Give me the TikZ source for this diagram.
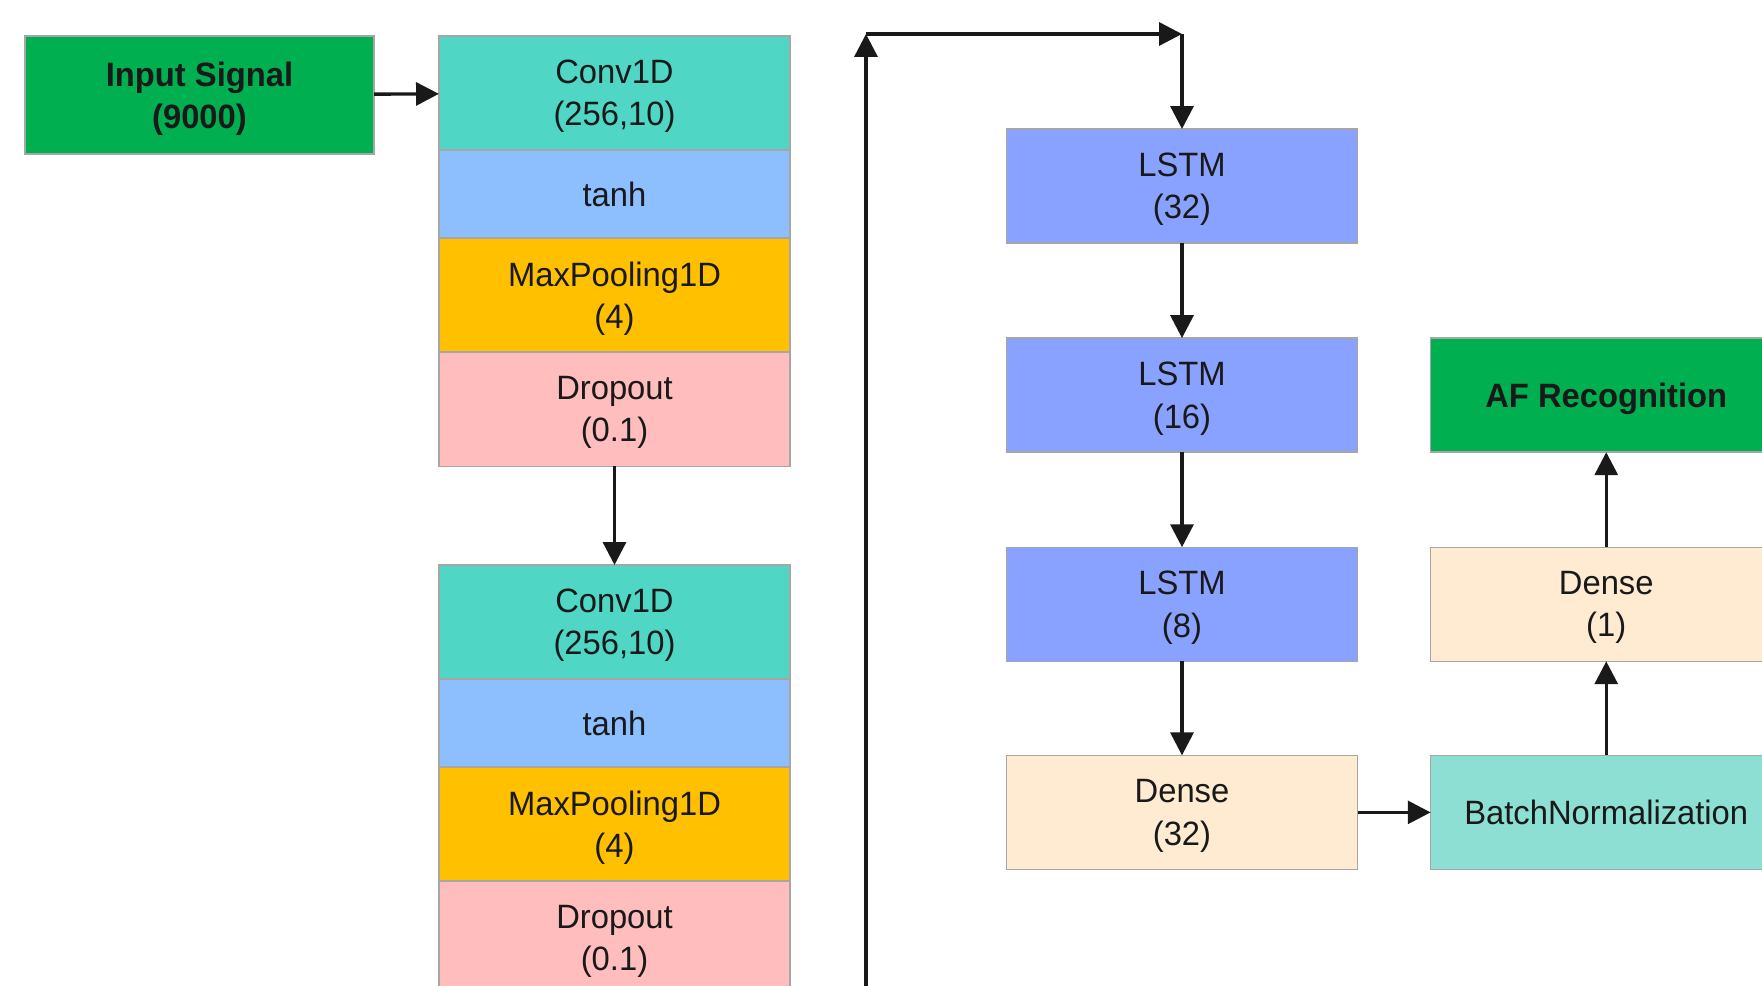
\documentclass[tikz,border=0pt]{standalone}
\usepackage{fontspec}
\setmainfont{Liberation Sans}[FakeStretch=0.97]
\usetikzlibrary{positioning,arrows.meta}

% colores de las capas
\definecolor{verde}{HTML}{00B050}
\definecolor{convc}{HTML}{4FD6C5}
\definecolor{tanhc}{HTML}{8DBFFF}
\definecolor{poolc}{HTML}{FFC000}
\definecolor{dropc}{HTML}{FFBDBD}
\definecolor{lstmc}{HTML}{8AA2FF}
\definecolor{densec}{HTML}{FFEBD2}
\definecolor{bnc}{HTML}{8CDFD2}
\definecolor{borde}{HTML}{A6A6A6}

\tikzset{
  capa/.style={draw=borde, line width=0.4pt, minimum width=3.51cm, minimum height=1.14cm,
    inner sep=0pt, outer sep=0pt, align=center, text=black!90, text depth=0pt,
    font=\fontsize{9.6pt}{12pt}\selectfont},
  fina/.style={capa, minimum height=0.88cm},
  negrita/.style={font=\bfseries\fontsize{9.6pt}{12pt}\selectfont},
  flecha/.style={-{Triangle[length=6.5pt,width=6.5pt]}, line width=0.95pt, black!90},
}

\begin{document}
\begin{tikzpicture}[x=0.01cm, y=-0.01cm]

    \useasboundingbox (0,0) rectangle (1762,986);

    % entrada
    \node[capa, negrita, fill=verde, minimum width=3.49cm, minimum height=1.18cm] (inp) at (199.5,95) {Input Signal\\(9000)};

    % primer bloque convolucional
    \node[capa, fill=convc, anchor=north] (conv1) at (614.5,36) {Conv1D\\(256,10)};
    \node[fina, fill=tanhc, below=0pt of conv1] (tanh1) {tanh};
    \node[capa, fill=poolc, below=0pt of tanh1] (pool1) {MaxPooling1D\\(4)};
    \node[capa, fill=dropc, below=0pt of pool1] (drop1) {Dropout\\(0.1)};

    % segundo bloque convolucional
    \node[capa, fill=convc, anchor=north] (conv2) at (614.5,565) {Conv1D\\(256,10)};
    \node[fina, fill=tanhc, below=0pt of conv2] (tanh2) {tanh};
    \node[capa, fill=poolc, below=0pt of tanh2] (pool2) {MaxPooling1D\\(4)};
    \node[capa, fill=dropc, below=0pt of pool2] (drop2) {Dropout\\(0.1)};

    % capas LSTM y densa
    \node[capa, fill=lstmc, anchor=north] (lstm1) at (1182,129) {LSTM\\(32)};
    \node[capa, fill=lstmc, below=0.95cm of lstm1] (lstm2) {LSTM\\(16)};
    \node[capa, fill=lstmc, below=0.95cm of lstm2] (lstm3) {LSTM\\(8)};
    \node[capa, fill=densec, below=0.94cm of lstm3] (dense32) {Dense\\(32)};

    % salida
    \node[capa, fill=bnc, right=0.73cm of dense32] (bn) {BatchNormalization};
    \node[capa, fill=densec, right=0.73cm of lstm3] (dense1) {Dense\\(1)};
    \node[capa, negrita, fill=verde, right=0.73cm of lstm2] (af) {AF Recognition};

    % flechas
    \draw[flecha] (inp) -- (conv1);
    \draw[flecha] (drop1) -- (conv2);

    % retorno hacia las LSTM
    \coordinate (loopbot) at (866,995);
    \coordinate (looptop) at (866,34);
    \coordinate (loopend) at (lstm1.north |- looptop);
    \draw[flecha] (loopbot) -- (looptop);
    \draw[flecha] (looptop) -- (loopend);
    \draw[flecha] (loopend) -- (lstm1);

    \draw[flecha] (lstm1) -- (lstm2);
    \draw[flecha] (lstm2) -- (lstm3);
    \draw[flecha] (lstm3) -- (dense32);
    \draw[flecha] (dense32) -- (bn);
    \draw[flecha] (bn) -- (dense1);
    \draw[flecha] (dense1) -- (af);

\end{tikzpicture}
\end{document}
